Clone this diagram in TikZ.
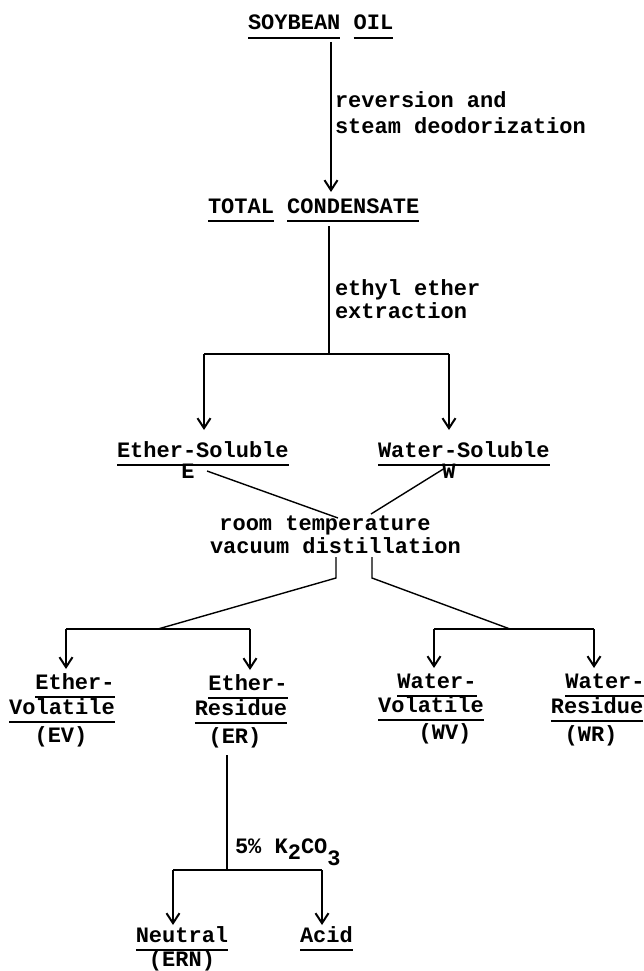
\documentclass[tikz,border=0pt]{standalone}
\usepackage{fontspec}
\setmainfont{Liberation Mono}
\usetikzlibrary{arrows.meta}
\newcommand\tul[1]{\setbox0\hbox{#1}\rlap{\rule[-9pt]{\wd0}{1.8pt}}\box0}
\newcommand\tsp{\hspace*{13.2pt}}
\tikzset{
  lbl/.style={inner sep=0pt, outer sep=0pt, font=\fontsize{22}{26}\selectfont\bfseries},
  lblw/.style={lbl, anchor=base west},
  lblc/.style={lbl, anchor=base},
  conn/.style={line width=1.4pt},
  arr/.style={conn, -{Straight Barb[length=10pt,width=13pt,line width=2pt]}}
}
\begin{document}
\begin{tikzpicture}[x=1pt,y=-1pt]
\useasboundingbox[fill=white] (0,0) rectangle (643,971);
% texts
\node[lblw] (soy) at (248,30) {\tul{SOYBEAN}\tsp\tul{OIL}};
\node[lblw] (rev1) at (335,108) {reversion\tsp and};
\node[lblw] (rev2) at (335,133) {steam\tsp deodorization};
\node[lblw] (tc) at (208,213) {\tul{TOTAL}\tsp\tul{CONDENSATE}};
\node[lblw] (eth1) at (335,295) {ethyl\tsp ether};
\node[lblw] (eth2) at (335,318) {extraction};
\node[lblw] (es) at (117,457) {\tul{Ether-Soluble}};
\node[lblc] (esE) at (188,478) {E};
\node[lblw] (ws) at (378,457) {\tul{Water-Soluble}};
\node[lblc] (wsW) at (449,478) {W};
\node[lblc] (rt1) at (325,530) {room\tsp temperature};
\node[lblw] (rt2) at (210,553) {vacuum\tsp distillation};
% Ether-Volatile
\node[lblc] (ev1) at (75,689) {\tul{Ether-}};
\node[lblc] (ev2) at (62,714) {\tul{Volatile}};
\node[lblc] (ev3) at (61,742) {(EV)};
% Ether-Residue
\node[lblc] (er1) at (248,690) {\tul{Ether-}};
\node[lblc] (er2) at (241,715) {\tul{Residue}};
\node[lblc] (er3) at (235,743) {(ER)};
% Water-Volatile
\node[lblc] (wv1) at (437,688) {\tul{Water-}};
\node[lblc] (wv2) at (431,712) {\tul{Volatile}};
\node[lblc] (wv3) at (445,739) {(WV)};
% Water-Residue
\node[lblc] (wr1) at (605,688) {\tul{Water-}};
\node[lblc] (wr2) at (597,713) {\tul{Residue}};
\node[lblc] (wr3) at (591,741) {(WR)};
% K2CO3
\node[lblw] (k2) at (235,853) {5\%\tsp K\raisebox{-6pt}{2}CO\raisebox{-12pt}{3}};
\node[lblc] (neu) at (182,942) {\tul{Neutral}};
\node[lblc] (ern) at (182,966) {(ERN)};
\node[lblw] (acid) at (300,942) {\tul{Acid}};
% junction coordinates
\coordinate (s1) at (331,42);
\coordinate (s2) at (331,192);
\coordinate (t1) at (329,226);
\coordinate (t2) at (329,354);
\coordinate (hL) at (204,354);
\coordinate (hR) at (449,354);
\coordinate (aES) at (204,430);
\coordinate (aWS) at (449,430);
\coordinate (eA) at (207,471);
\coordinate (eB) at (338,518);
\coordinate (wA) at (445,468);
\coordinate (wB) at (371,514);
\coordinate (dL1) at (336,557);
\coordinate (dL2) at (336,578);
\coordinate (dL3) at (158,629);
\coordinate (dR1) at (372,557);
\coordinate (dR2) at (372,578);
\coordinate (dR3) at (510,629);
\coordinate (hEV) at (66,629);
\coordinate (hER) at (250,629);
\coordinate (hWV) at (434,629);
\coordinate (hWR) at (594,629);
\coordinate (r1) at (227,755);
\coordinate (r2) at (227,870);
\coordinate (hN) at (173,870);
\coordinate (hA) at (322,870);
% connectors
\draw[arr] (s1) -- (s2);
\draw[conn] (t1) -- (t2);
\draw[conn] (hL) -- (hR);
\draw[arr] (hL) -- (aES);
\draw[arr] (hR) -- (aWS);
\draw[conn] (eA) -- (eB);
\draw[conn] (wA) -- (wB);
\draw[conn] (dL1) -- (dL2) -- (dL3);
\draw[conn] (dR1) -- (dR2) -- (dR3);
\draw[conn] (hEV) -- (hER);
\draw[conn] (hWV) -- (hWR);
\draw[arr] (hEV) -- (hEV |- 0,669);
\draw[arr] (hER) -- (hER |- 0,670);
\draw[arr] (hWV) -- (hWV |- 0,668);
\draw[arr] (hWR) -- (hWR |- 0,668);
\draw[conn] (r1) -- (r2);
\draw[conn] (hN) -- (hA);
\draw[arr] (hN) -- (hN |- 0,925);
\draw[arr] (hA) -- (hA |- 0,925);
\end{tikzpicture}
\end{document}
